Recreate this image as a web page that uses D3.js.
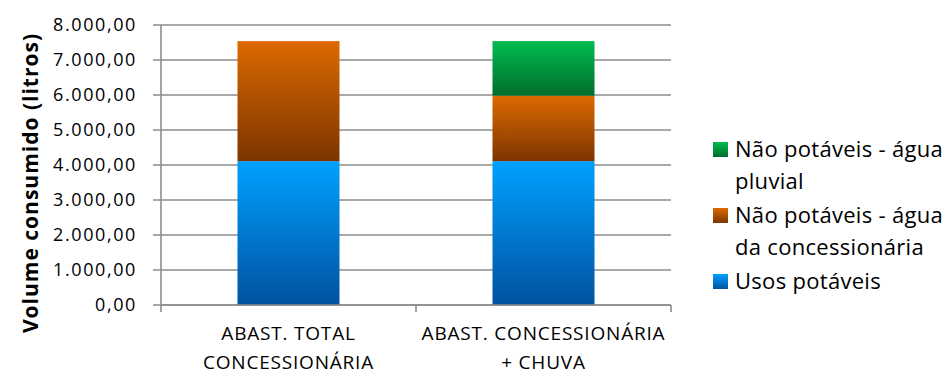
<!DOCTYPE html>
<html>
<head>
<meta charset="utf-8">
<script src="https://cdn.jsdelivr.net/npm/d3@7"></script>
<style>
  html, body { margin: 0; padding: 0; background: #fff; }
  svg { display: block; font-family: "Open Sans", Lato, sans-serif; }
</style>
</head>
<body>
<svg id="chart" width="950" height="374"></svg>
<script>
// Consumption per scenario (litres)
const categories = [["ABAST. TOTAL", "CONCESSIONÁRIA"], ["ABAST. CONCESSIONÁRIA", "+ CHUVA"]];
const seriesNames = ["Usos potáveis", "Não potáveis - água da concessionária", "Não potáveis - água pluvial"];
const potaveis = [4110, 4110];
const naoPotConcessionaria = [3430, 1870];
const naoPotPluvial = [0, 1560];
const yTicks = [0, 1000, 2000, 3000, 4000, 5000, 6000, 7000, 8000];
const legendLines = [["Não potáveis - água", "pluvial"], ["Não potáveis - água", "da concessionária"], ["Usos potáveis"]];

const svg = d3.select("#chart");
const margin = { left: 161, right: 671, top: 25, bottom: 305 };

const x = d3.scaleBand().domain([0, 1]).range([margin.left, margin.right]).paddingInner(0).paddingOuter(0);
const y = d3.scaleLinear().domain([0, 8000]).range([margin.bottom, margin.top]);

const gradients = [
  { id: "gBlue", top: "#00a0ff", bottom: "#0052a0" },
  { id: "gOrange", top: "#dd6a00", bottom: "#7c3500" },
  { id: "gGreen", top: "#00bb50", bottom: "#006e2c" }
];
const defs = svg.append("defs");
gradients.forEach(g => {
  const lg = defs.append("linearGradient").attr("id", g.id).attr("x1", 0).attr("y1", 0).attr("x2", 0).attr("y2", 1);
  lg.append("stop").attr("offset", "0%").attr("stop-color", g.top);
  lg.append("stop").attr("offset", "100%").attr("stop-color", g.bottom);
});

const fmt = v => d3.format(",.2f")(v).replace(/,/g, "#").replace(/\./g, ",").replace(/#/g, ".");

// gridlines
const grid = svg.append("g");
yTicks.forEach(t => {
  grid.append("line")
    .attr("x1", margin.left - 8).attr("x2", margin.right)
    .attr("y1", y(t)).attr("y2", y(t))
    .attr("stroke", "#8c8c8c").attr("stroke-width", 1.6);
});

// y axis line
svg.append("line").attr("x1", margin.left).attr("x2", margin.left)
  .attr("y1", margin.top).attr("y2", margin.bottom + 7)
  .attr("stroke", "#8c8c8c").attr("stroke-width", 1.6);

// y tick labels
svg.append("g").selectAll("text").data(yTicks).join("text")
  .attr("x", 137).attr("y", d => y(d)).attr("dy", "0.36em")
  .attr("text-anchor", "end").attr("font-size", 18).attr("letter-spacing", 1.6).attr("fill", "#000")
  .text(fmt);

// stacked bars
const stackData = categories.map((c, i) => ({ i, a: potaveis[i], b: naoPotConcessionaria[i], c: naoPotPluvial[i] }));
const stack = d3.stack().keys(["a", "b", "c"])(stackData);
const fills = ["url(#gBlue)", "url(#gOrange)", "url(#gGreen)"];
const bw = x.bandwidth() / 2.5;
stack.forEach((layer, k) => {
  svg.append("g").selectAll("rect").data(layer.filter(d => d[1] > d[0])).join("rect")
    .attr("x", d => x(d.data.i) + (x.bandwidth() - bw) / 2)
    .attr("width", bw)
    .attr("y", d => y(d[1]))
    .attr("height", d => y(d[0]) - y(d[1]))
    .attr("fill", fills[k]);
});

// x axis line and ticks
svg.append("line").attr("x1", margin.left).attr("x2", margin.right)
  .attr("y1", margin.bottom).attr("y2", margin.bottom)
  .attr("stroke", "#8c8c8c").attr("stroke-width", 1.6);
[0, 1].forEach(i => {
  const xx = x(i) + x.bandwidth();
  svg.append("line").attr("x1", xx).attr("x2", xx)
    .attr("y1", margin.bottom).attr("y2", margin.bottom + 7)
    .attr("stroke", "#8c8c8c").attr("stroke-width", 1.6);
});

// category labels
categories.forEach((lines, i) => {
  const t = svg.append("text").attr("text-anchor", "middle").attr("font-size", 19)
    .attr("letter-spacing", 0.8).attr("fill", "#000");
  lines.forEach((l, j) => {
    t.append("tspan").attr("x", x(i) + x.bandwidth() / 2).attr("y", 340 + j * 29).text(l);
  });
});

// y axis title
svg.append("text")
  .attr("transform", "translate(38,183) rotate(-90)")
  .attr("text-anchor", "middle").attr("font-size", 21).attr("font-weight", "bold")
  .attr("letter-spacing", 1.0)
  .text("Volume consumido (litros)");

// legend
const legendFills = ["url(#gGreen)", "url(#gOrange)", "url(#gBlue)"];
const legendY = [157, 223, 289];
const legendTexts = [];
legendLines.forEach((lines, k) => {
  svg.append("rect").attr("x", 713).attr("y", legendY[k] - 15).attr("width", 15).attr("height", 15)
    .attr("fill", legendFills[k]);
  const t = svg.append("text").attr("font-size", 22).attr("fill", "#000");
  lines.forEach((l, j) => {
    t.append("tspan").attr("x", 735).attr("y", legendY[k] + j * 32).text(l);
  });
  legendTexts.push(t);
});
// widen the legend lettering so the longest line spans 208px
const probe = legendTexts[0].select("tspan").node();
const natural = probe.getComputedTextLength();
const nChars = legendLines[0][0].length;
const spacing = Math.max(0, (208 - natural) / nChars);
legendTexts.forEach(t => t.attr("letter-spacing", spacing));
</script>
</body>
</html>
